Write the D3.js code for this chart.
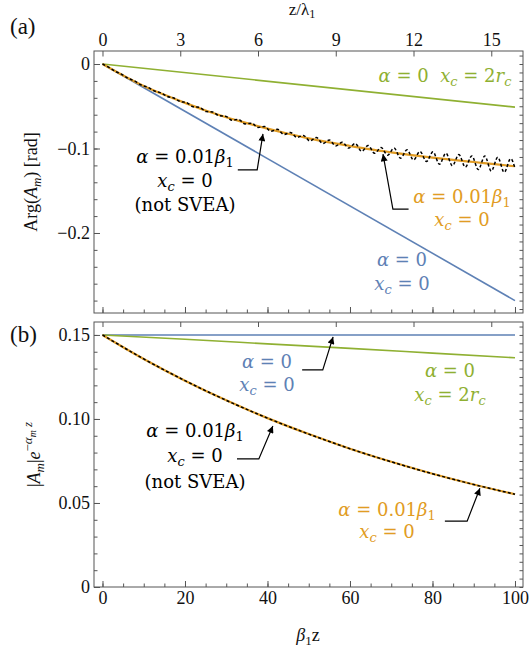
<!DOCTYPE html>
<html><head><meta charset="utf-8">
<script src="https://cdn.jsdelivr.net/npm/d3@7"></script>
<style>body{margin:0;background:#fff}</style>
</head><body>
<svg id="chart" width="531" height="649"></svg>
<script>
// ---------------- data ----------------
const zLambdaTicks = [0, 3, 6, 9, 12, 15];
const betaZTicks = [0, 20, 40, 60, 80, 100];
const argTicks = [0, -0.1, -0.2];
const argTickLabels = ["0", "\u22120.1", "\u22120.2"];
const ampTicks = [0, 0.05, 0.10, 0.15];
const ampTickLabels = ["0", "0.05", "0.10", "0.15"];

// panel (a): Arg(A_m)
const betaZEnds = [0, 100];
const argBlue = [0, -0.280];          // alpha=0, xc=0
const argGreen = [0, -0.051];         // alpha=0, xc=2rc
const betaZ5 = [0,5,10,15,20,25,30,35,40,45,50,55,60,65,70,75,80,85,90,95,100];
const argOrange = [0,-0.0135,-0.0260,-0.0365,-0.0460,-0.0550,-0.0630,-0.0700,-0.0765,-0.0825,-0.0880,
                   -0.0928,-0.0970,-0.1010,-0.1045,-0.1078,-0.1108,-0.1135,-0.1160,-0.1185,-0.1210];
const betaZHalf = [0,1.57,3.14,4.71,6.28,7.85,9.42,11.0,12.57,14.14,15.71,17.28,18.85,20.42,21.99,23.56,25.13,
  26.70,28.27,29.85,31.42,32.99,34.56,36.13,37.70,39.27,40.84,42.41,43.98,45.55,47.12,48.69,50.27,51.84,53.41,
  54.98,56.55,58.12,59.69,61.26,62.83,64.40,65.97,67.54,69.12,70.69,72.26,73.83,75.40,76.97,78.54,80.11,81.68,
  83.25,84.82,86.39,87.96,89.54,91.11,92.68,94.25,95.82,97.39,98.96,100];
const argNotSVEA = [0,-0.0040,-0.0088,-0.0124,-0.0170,-0.0203,-0.0249,-0.0275,-0.0320,-0.0341,-0.0384,-0.0402,
  -0.0444,-0.0458,-0.0506,-0.0514,-0.0562,-0.0567,-0.0612,-0.0618,-0.0665,-0.0657,-0.0709,-0.0700,-0.0750,-0.0740,
  -0.0796,-0.0773,-0.0834,-0.0810,-0.0869,-0.0845,-0.0911,-0.0870,-0.0941,-0.0900,-0.0969,-0.0926,-0.0995,-0.0940,
  -0.1033,-0.0965,-0.1057,-0.0988,-0.1079,-0.0995,-0.1115,-0.1015,-0.1135,-0.1035,-0.1154,-0.1039,-0.1187,-0.1056,
  -0.1204,-0.1072,-0.1220,-0.1088,-0.1250,-0.1088,-0.1266,-0.1104,-0.1282,-0.1120,-0.1235];

// panel (b): |A_m| e^{-alpha_m z}
const ampBlue = [0.150, 0.150];
const betaZ20 = [0, 20, 40, 60, 80, 100];
const ampGreen = [0.150, 0.1474, 0.1447, 0.1420, 0.1392, 0.1364];
const betaZ10 = [0,10,20,30,40,50,60,70,80,90,100];
const ampOrange = [0.150,0.1357,0.1228,0.1111,0.1005,0.0910,0.0823,0.0745,0.0674,0.0610,0.0552];
const ampNotSVEA = [0.150,0.1357,0.1228,0.1111,0.1005,0.0910,0.0823,0.0745,0.0674,0.0610,0.0552];

// ---------------- style ----------------
const C = {blue:"#5E81B5", orange:"#E19C24", green:"#8FB032", black:"#000", frame:"#555"};
const TICKFONT = "'Liberation Serif', 'Times New Roman', serif";
const MATHFONT = "'DejaVu Serif', serif";

const svg = d3.select("#chart");
const L = 94, R = 523, A = {t:51, b:313}, B = {t:322, b:587};

const x = d3.scaleLinear().domain([-2.06, 101.94]).range([L, R]);
const zl = d3.scaleLinear().domain([x.domain()[0]/(2*Math.PI), x.domain()[1]/(2*Math.PI)]).range([L, R]);
const yA = d3.scaleLinear().domain([-0.2947, 0.0154]).range([A.b, A.t]);
const yB = d3.scaleLinear().domain([0, 0.1577]).range([B.b, B.t]);

// defs
const defs = svg.append("defs");
defs.append("clipPath").attr("id","clipA").append("rect").attr("x",L).attr("y",A.t).attr("width",R-L).attr("height",A.b-A.t);
defs.append("clipPath").attr("id","clipB").append("rect").attr("x",L).attr("y",B.t).attr("width",R-L).attr("height",B.b-B.t);
defs.append("marker").attr("id","arrow").attr("viewBox","0 0 10 10").attr("refX",10).attr("refY",5)
  .attr("markerWidth",9).attr("markerHeight",7).attr("markerUnits","userSpaceOnUse").attr("orient","auto")
  .append("path").attr("d","M0,0 L10,5 L0,10 z").attr("fill","#000");

function axis(gen, tx, ty, vals, size, fmt) {
  const g = svg.append("g").attr("transform", `translate(${tx},${ty})`)
    .call(gen.tickValues(vals).tickSize(size).tickPadding(4).tickFormat(fmt || (() => "")));
  g.select(".domain").remove();
  g.selectAll("line").attr("stroke", C.frame).attr("stroke-width", 1);
  g.selectAll("text").attr("fill", "#111").style("font-family", TICKFONT).style("font-size", "18px");
  return g;
}
const labelFrom = (vals, labels) => (d) => labels[vals.indexOf(d)];

// ---------- panel A axes ----------
axis(d3.axisLeft(yA), L, 0, d3.range(0, -0.2901, -0.02), -3.5);
axis(d3.axisLeft(yA), L, 0, argTicks, -6, labelFrom(argTicks, argTickLabels));
axis(d3.axisRight(yA), R, 0, d3.range(0.01, -0.2901, -0.01), -3.5);
axis(d3.axisBottom(x), 0, A.b, d3.range(0, 101, 5), -3.5);
axis(d3.axisBottom(x), 0, A.b, betaZTicks, -6);
axis(d3.axisTop(zl), 0, A.t, zLambdaTicks, -5.5, d3.format("d")).selectAll("text").attr("dy", "-0.05em");

// ---------- panel B axes ----------
axis(d3.axisLeft(yB), L, 0, d3.range(0, 0.1551, 0.01), -3.5);
axis(d3.axisLeft(yB), L, 0, ampTicks, -6, labelFrom(ampTicks, ampTickLabels));
axis(d3.axisRight(yB), R, 0, d3.range(0, 0.1576, 0.005), -3.5);
axis(d3.axisBottom(x), 0, B.b, d3.range(0, 101, 5), -3.5);
axis(d3.axisBottom(x), 0, B.b, betaZTicks, -6, d3.format("d"));
axis(d3.axisTop(zl), 0, B.t, zLambdaTicks, -5);

// frames
[A, B].forEach(p => svg.append("rect").attr("x", L).attr("y", p.t).attr("width", R - L).attr("height", p.b - p.t)
  .attr("fill", "none").attr("stroke", C.frame).attr("stroke-width", 1));

// ---------- series ----------
function series(clip, xs, ys, ysc, color, width, dash, curve) {
  const gen = d3.line().x(d => x(d[0])).y(d => ysc(d[1])).curve(curve || d3.curveMonotoneX);
  const p = svg.append("path").attr("clip-path", `url(#${clip})`).datum(d3.zip(xs, ys))
    .attr("d", gen).attr("fill", "none").attr("stroke", color).attr("stroke-width", width);
  if (dash) p.attr("stroke-dasharray", dash);
  return p;
}
series("clipA", betaZEnds, argBlue, yA, C.blue, 1.6);
series("clipA", betaZEnds, argGreen, yA, C.green, 1.6);
series("clipA", betaZ5, argOrange, yA, C.orange, 2.2);
series("clipA", betaZHalf, argNotSVEA, yA, C.black, 1.5, "3,2.2");

series("clipB", betaZEnds, ampBlue, yB, C.blue, 1.6);
series("clipB", betaZ20, ampGreen, yB, C.green, 1.6);
series("clipB", betaZ10, ampOrange, yB, C.orange, 2.2);
series("clipB", betaZ10, ampNotSVEA, yB, C.black, 1.5, "3,2.2");

// ---------- text helpers ----------
const LV = {n:{s:0, k:1}, sub:{s:0.2, k:0.72}, sup:{s:-0.42, k:0.72}, supsub:{s:-0.25, k:0.55}};
function mathText(g, px, py, segs, o) {
  const size = o.size;
  const t = g.append("text").attr("x", px).attr("y", py).attr("text-anchor", o.anchor || "middle")
    .attr("fill", o.color || "#000").style("font-family", o.font || MATHFONT)
    .style("font-size", size + "px").style("white-space", "pre");
  let cur = 0;
  segs.forEach(s => {
    const lv = LV[s.l || "n"];
    const sh = lv.s * size;
    const ts = t.append("tspan").text(s.t).attr("dy", sh - cur).style("font-size", (lv.k * size) + "px");
    if (s.i) ts.style("font-style", "italic");
    cur = sh;
  });
  return t;
}
const alpha001 = [{t:"\u03B1", i:1}, {t:" = 0.01"}, {t:"\u03B2", i:1}, {t:"1", l:"sub"}];
const alpha0 = [{t:"\u03B1", i:1}, {t:" = 0"}];
const xc0 = [{t:"x", i:1}, {t:"c", i:1, l:"sub"}, {t:" = 0"}];
const xc2rc = [{t:"x", i:1}, {t:"c", i:1, l:"sub"}, {t:" = 2"}, {t:"r", i:1}, {t:"c", i:1, l:"sub"}];
const notSvea = [{t:"(not SVEA)"}];

function label(lines, cx, baselines, color) {
  lines.forEach((segs, i) => mathText(svg, cx, baselines[i], segs, {size: 18, color}));
}
function arrow(tipX, tipY, elbowX, elbowY, endX) {
  svg.append("path").attr("d", `M${endX},${elbowY} L${elbowX},${elbowY} L${tipX},${tipY}`)
    .attr("fill", "none").attr("stroke", "#000").attr("stroke-width", 1.2).attr("marker-end", "url(#arrow)");
}

// ---------- panel A annotations ----------
mathText(svg, 445, 82, [...alpha0, {t:"  "}, ...xc2rc], {size: 18, color: C.green});
label([alpha001, xc0, notSvea], 185, [163, 187, 211], "#000");
arrow(x(38.9), yA(-0.0745) + 7, x(37.5), yA(-0.0745) + 43, x(32.8));
label([alpha001, xc0], 462, [203, 226], C.orange);
arrow(x(68.0), yA(-0.1031) + 3, x(70.4), yA(-0.1031) + 58, x(74.2));
label([alpha0, xc0], 402, [266, 290], C.blue);

// ---------- panel B annotations ----------
label([alpha0, xc0], 267, [368, 391], C.blue);
arrow(x(55.9), yB(0.15) + 2, x(53.4), yB(0.15) + 35, x(48.4));
label([alpha0, xc2rc], 450, [377, 401], C.green);
label([alpha001, xc0, notSvea], 195, [437, 462, 488], "#000");
arrow(x(41.3), yB(0.0994) + 6, x(37.9), yB(0.0994) + 39, x(32.6));
label([alpha001, xc0], 387, [516, 538], C.orange);
arrow(x(91.5), yB(0.0600) + 2, x(88.4), yB(0.0600) + 35, x(83.0));

// ---------- titles ----------
mathText(svg, 302, 15, [{t:"z/\u03BB"}, {t:"1", l:"sub"}], {size: 17, font: TICKFONT, color: "#111"});
mathText(svg, 308, 641, [{t:"\u03B2", i:1}, {t:"1", l:"sub"}, {t:"z"}], {size: 18, font: TICKFONT, color: "#111"});
mathText(svg, 10, 34, [{t:"(a)"}], {size: 23, font: TICKFONT, anchor: "start", color: "#111"});
mathText(svg, 10, 342, [{t:"(b)"}], {size: 23, font: TICKFONT, anchor: "start", color: "#111"});

const gA = svg.append("g").attr("transform", `translate(37,${(A.t + A.b) / 2}) rotate(-90)`);
mathText(gA, 0, 0, [{t:"Arg("}, {t:"A", i:1}, {t:"m", i:1, l:"sub"}, {t:") [rad]"}], {size: 18, font: TICKFONT, color: "#111"});
const gB = svg.append("g").attr("transform", `translate(40,${(B.t + B.b) / 2}) rotate(-90)`);
mathText(gB, 0, 0, [{t:"|"}, {t:"A", i:1}, {t:"m", i:1, l:"sub"}, {t:"|"}, {t:"e", i:1},
  {t:"\u2212", l:"sup"}, {t:"\u03B1", i:1, l:"sup"}, {t:"m", i:1, l:"supsub"}, {t:" z", i:1, l:"sup"}],
  {size: 18, font: TICKFONT, color: "#111"});
</script>
</body></html>
